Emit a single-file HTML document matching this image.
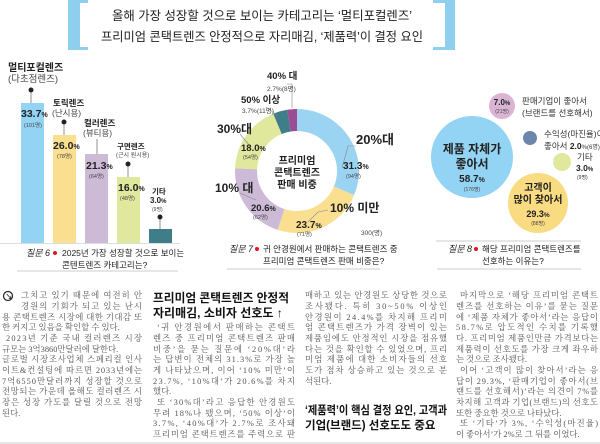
<!DOCTYPE html>
<html><head><meta charset="utf-8"><style>
html,body{margin:0;padding:0;background:#fff;width:600px;height:444px;overflow:hidden}
svg{display:block}
.s{font-family:"Liberation Sans","Noto Sans CJK KR",sans-serif}
.b{font-family:"Liberation Serif","Noto Serif CJK KR","Noto Serif CJK SC",serif;fill:#555;font-size:8.4px}
</style></head><body>
<svg width="600" height="444" viewBox="0 0 600 444" xmlns="http://www.w3.org/2000/svg" class="s">
<!-- header brackets -->
<rect x="68" y="0" width="12" height="50" fill="#8ecfee"/>
<rect x="80" y="0" width="8" height="3" fill="#8ecfee"/>
<rect x="80" y="47" width="8" height="3" fill="#8ecfee"/>
<rect x="445" y="0" width="10" height="50" fill="#8ecfee"/>
<rect x="433" y="0" width="12" height="3" fill="#8ecfee"/>
<rect x="433" y="47" width="12" height="3" fill="#8ecfee"/>
<text x="262" y="20" font-size="12.5" text-anchor="middle" fill="#222" textLength="300" lengthAdjust="spacingAndGlyphs">올해 가장 성장할 것으로 보이는 카테고리는 ‘멀티포컬렌즈’</text>
<text x="262" y="41" font-size="12.5" text-anchor="middle" fill="#222" textLength="322" lengthAdjust="spacingAndGlyphs">프리미엄 콘택트렌즈 안정적으로 자리매김, ‘제품력’이 결정 요인</text>

<!-- bar chart -->
<g stroke="#777" stroke-width="0.8">
<line x1="31" y1="90" x2="31" y2="103"/><line x1="64" y1="122" x2="64" y2="135"/>
<line x1="97" y1="139" x2="97" y2="154"/><line x1="128" y1="164" x2="128" y2="177"/>
<line x1="160" y1="217" x2="160" y2="229"/>
</g>
<g fill="#222"><circle cx="31" cy="90" r="2.5"/><circle cx="64" cy="122" r="2.5"/><circle cx="128" cy="164" r="2.5"/><circle cx="160" cy="217" r="2.5"/></g>
<rect x="21" y="103" width="23" height="140" fill="#93d3f3"/>
<rect x="53" y="135" width="23" height="108" fill="#f9df8f"/>
<rect x="85" y="154" width="23" height="89" fill="#cdbad7"/>
<rect x="117" y="177" width="23" height="66" fill="#dfe89c"/>
<rect x="149" y="229" width="23" height="14" fill="#3f7d88"/>
<text x="8" y="71" font-size="10" font-weight="bold" fill="#222">멀티포컬렌즈</text>
<text x="8" y="82" font-size="9.5" fill="#444">(다초점렌즈)</text>
<text x="53" y="106" font-size="8.5" font-weight="bold" fill="#222">토릭렌즈</text>
<text x="52" y="116" font-size="8.5" fill="#444">(난시용)</text>
<text x="84" y="126" font-size="8.5" font-weight="bold" fill="#222">컬러렌즈</text>
<text x="83" y="136" font-size="8.5" fill="#444">(뷰티용)</text>
<text x="117" y="149" font-size="7.5" font-weight="bold" fill="#222">구면렌즈</text>
<text x="116" y="157" font-size="6" fill="#444">(근시 원시용)</text>
<text x="152" y="194" font-size="7.5" font-weight="bold" fill="#222">기타</text>
<text x="150" y="203" font-size="8" font-weight="bold" fill="#222">3.0<tspan font-size="6">%</tspan></text>
<text x="152" y="211" font-size="5" fill="#444">(9명)</text>
<g font-weight="bold" fill="#222">
<text x="21" y="117" font-size="10.5">33.7<tspan font-size="7">%</tspan></text>
<text x="53" y="149" font-size="10.5">26.0<tspan font-size="7">%</tspan></text>
<text x="86" y="169" font-size="10.5">21.3<tspan font-size="7">%</tspan></text>
<text x="118" y="191" font-size="10.5">16.0<tspan font-size="7">%</tspan></text>
</g>
<g font-size="5.5" fill="#444">
<text x="24" y="127">(101명)</text><text x="57" y="158">(78명)</text><text x="89" y="178">(64명)</text><text x="120" y="200">(48명)</text>
</g>
<line x1="0" y1="243.5" x2="180" y2="243.5" stroke="#bbb" stroke-width="0.5"/>

<!-- questions -->
<g font-size="8.5" fill="#222">
<text x="26" y="256" font-style="italic" font-size="9">질문 6</text>
<circle cx="55" cy="253" r="2" fill="#e0161e"/>
<text x="62" y="256">2025년 가장 성장할 것으로 보이는</text>
<text x="62" y="268">콘텐트렌즈 카테고리는?</text>
<text x="229" y="252" font-style="italic" font-size="9">질문 7</text>
<circle cx="257" cy="249" r="2" fill="#e0161e"/>
<text x="263" y="252">귀 안경원에서 판매하는 콘택트렌즈 중</text>
<text x="263" y="264">프리미엄 콘택트렌즈 판매 비중은?</text>
<text x="448" y="252" font-style="italic" font-size="9">질문 8</text>
<circle cx="476" cy="249" r="2" fill="#e0161e"/>
<text x="482" y="252">해당 프리미엄 콘택트렌즈를</text>
<text x="482" y="264">선호하는 이유는?</text>
</g>
<g stroke="#999" stroke-width="0.6">
<line x1="17" y1="271" x2="178" y2="271"/>
<line x1="227" y1="269" x2="380" y2="269"/>
<line x1="437" y1="269" x2="581" y2="269"/>
<line x1="436" y1="241" x2="581" y2="241"/>
<line x1="0" y1="443" x2="600" y2="443"/>
</g>

<!-- donut -->
<g transform="rotate(-90 297 171)" fill="none" stroke-width="22">
<circle cx="297" cy="171" r="51" stroke="#9bd4f2" stroke-dasharray="100.3 320.44" stroke-dashoffset="0"/>
<circle cx="297" cy="171" r="51" stroke="#f9df8f" stroke-dasharray="75.9 320.44" stroke-dashoffset="-100.3"/>
<circle cx="297" cy="171" r="51" stroke="#cdbad7" stroke-dasharray="66.0 320.44" stroke-dashoffset="-176.24"/>
<circle cx="297" cy="171" r="51" stroke="#dfe89c" stroke-dasharray="57.7 320.44" stroke-dashoffset="-242.25"/>
<circle cx="297" cy="171" r="51" stroke="#3f7d88" stroke-dasharray="11.86 320.44" stroke-dashoffset="-299.93"/>
<circle cx="297" cy="171" r="51" stroke="#9b4d93" stroke-dasharray="8.65 320.44" stroke-dashoffset="-311.79"/>
</g>
<g stroke="#888" stroke-width="0.6" fill="none">
<polyline points="356,146 348,146 342,168"/>
<polyline points="328,210 318,212 308,222"/>
<polyline points="240,193 256,200"/>
<polyline points="240,134 250,146"/>
<polyline points="266,107 278,116"/>
<polyline points="287,84 292,84 292,108"/>
</g>
<g font-weight="bold" fill="#222">
<text x="297" y="164" font-size="10" text-anchor="middle">프리미엄</text>
<text x="297" y="176" font-size="10" text-anchor="middle">콘택트렌즈</text>
<text x="297" y="188" font-size="10" text-anchor="middle">판매 비중</text>
<text x="356" y="144" font-size="13">20%대</text>
<text x="343" y="169" font-size="10">31.3<tspan font-size="7">%</tspan></text>
<text x="330" y="212" font-size="12">10% 미만</text>
<text x="296" y="228" font-size="10">23.7<tspan font-size="7">%</tspan></text>
<text x="215" y="192" font-size="12">10% 대</text>
<text x="251" y="211" font-size="9.5">20.6<tspan font-size="7">%</tspan></text>
<text x="217" y="133" font-size="12">30%대</text>
<text x="241" y="151" font-size="9.5">18.0<tspan font-size="7">%</tspan></text>
<text x="241" y="103" font-size="9.5">50% 이상</text>
<text x="267" y="79" font-size="9.5">40% 대</text>
</g>
<g font-size="5.5" fill="#444">
<text x="346" y="178">(94명)</text><text x="297" y="236">(71명)</text><text x="253" y="219">(62명)</text><text x="243" y="159">(54명)</text>
<text x="242" y="113" font-size="6.5">3.7%(11명)</text>
<text x="267" y="91" font-size="6.5">2.7%(8명)</text>
<text x="361" y="235" font-size="6.5">300(명)</text>
</g>

<!-- bubbles -->
<circle cx="472" cy="157" r="41" fill="#93d3f3"/>
<circle cx="502" cy="106" r="13" fill="#d9b4d4"/>
<circle cx="530" cy="138" r="7" fill="#6a86ad"/>
<circle cx="562" cy="162" r="9" fill="#dfe89c"/>
<circle cx="538" cy="203" r="30" fill="#f9db82"/>
<g font-weight="bold" fill="#222" text-anchor="middle">
<text x="472" y="153" font-size="12">제품 자체가</text>
<text x="472" y="168" font-size="12">좋아서</text>
<text x="472" y="182" font-size="10">58.7<tspan font-size="7">%</tspan></text>
<text x="538" y="191" font-size="10">고객이</text>
<text x="538" y="203" font-size="10">많이 찾아서</text>
<text x="538" y="217" font-size="9">29.3<tspan font-size="6.5">%</tspan></text>
<text x="502" y="105" font-size="8">7.0<tspan font-size="6">%</tspan></text>
</g>
<g font-size="5" fill="#444" text-anchor="middle">
<text x="472" y="191">(176명)</text><text x="538" y="225">(88명)</text><text x="502" y="113">(21명)</text>
</g>
<g font-size="8.5" fill="#333">
<text x="522" y="104">판매기업이 좋아서</text>
<text x="522" y="116">(브랜드를 선호해서)</text>
<text x="544" y="137">수익성(마진율)이</text>
<text x="544" y="149">좋아서 <tspan font-weight="bold" fill="#222">2.0</tspan><tspan font-size="6">%(6명)</tspan></text>
<text x="577" y="160">기타</text>
<text x="576" y="171" font-weight="bold" fill="#222">3.0<tspan font-size="6">%</tspan></text>
<text x="577" y="179" font-size="5">(9명)</text>
</g>

<!-- body text -->
<circle cx="8" cy="296" r="4.5" fill="none" stroke="#222" stroke-width="1.2"/>
<text x="5.5" y="299" font-size="7" font-weight="bold" fill="#222">↘</text>
<g class="b">
<text x="21" y="298" textLength="121" lengthAdjust="spacing">그치고 있기 때문에 여전히 안</text>
<text x="21" y="309" textLength="121" lengthAdjust="spacing">경원의 기회가 되고 있는 난시</text>
<text x="2" y="320" textLength="140" lengthAdjust="spacing">용 콘택트렌즈 시장에 대한 기대감 또</text>
<text x="2" y="330">한 커지고 있음을 확인할 수 있다.</text>
<text x="6" y="341" textLength="136" lengthAdjust="spacing">2023년 기준 국내 컬러렌즈 시장</text>
<text x="2" y="352">규모는 3억3860만달러에 달한다.</text>
<text x="2" y="362" textLength="140" lengthAdjust="spacing">글로벌 시장조사업체 스페리컬 인사</text>
<text x="2" y="373" textLength="140" lengthAdjust="spacing">이트&amp;컨설팅에 따르면 2033년에는</text>
<text x="2" y="384" textLength="140" lengthAdjust="spacing">7억6550만달러까지 성장할 것으로</text>
<text x="2" y="394" textLength="140" lengthAdjust="spacing">전망되는 가운데 올해도 컬러렌즈 시</text>
<text x="2" y="405" textLength="140" lengthAdjust="spacing">장은 성장 가도를 달릴 것으로 전망</text>
<text x="2" y="416">된다.</text>

<text x="157" y="330" textLength="138" lengthAdjust="spacing">‘귀 안경원에서 판매하는 콘택트</text>
<text x="153" y="341" textLength="142" lengthAdjust="spacing">렌즈 중 프리미엄 콘택트렌즈 판매</text>
<text x="153" y="352" textLength="142" lengthAdjust="spacing">비중’을 묻는 질문에 ‘20%대’라</text>
<text x="153" y="362" textLength="142" lengthAdjust="spacing">는 답변이 전체의 31.3%로 가장 높</text>
<text x="153" y="373" textLength="142" lengthAdjust="spacing">게 나타났으며, 이어 ‘10% 미만’이</text>
<text x="153" y="384" textLength="142" lengthAdjust="spacing">23.7%, ‘10%대’가 20.6%를 차지</text>
<text x="153" y="394">했다.</text>
<text x="157" y="405" textLength="138" lengthAdjust="spacing">또 ‘30%대’라고 응답한 안경원도</text>
<text x="153" y="416" textLength="142" lengthAdjust="spacing">무려 18%나 됐으며, ‘50% 이상’이</text>
<text x="153" y="426" textLength="142" lengthAdjust="spacing">3.7%, ‘40%대’가 2.7%로 조사돼</text>
<text x="153" y="437" textLength="142" lengthAdjust="spacing">프리미엄 콘택트렌즈를 주력으로 판</text>

<text x="305" y="298" textLength="142" lengthAdjust="spacing">매하고 있는 안경원도 상당한 것으로</text>
<text x="305" y="309" textLength="142" lengthAdjust="spacing">조사됐다. 특히 30~50% 이상인</text>
<text x="305" y="320" textLength="142" lengthAdjust="spacing">안경원이 24.4%를 차지해 프리미</text>
<text x="305" y="330" textLength="142" lengthAdjust="spacing">엄 콘택트렌즈가 가격 장벽이 있는</text>
<text x="305" y="341" textLength="142" lengthAdjust="spacing">제품임에도 안정적인 시장을 점유했</text>
<text x="305" y="352" textLength="142" lengthAdjust="spacing">다는 것을 확인할 수 있었으며, 프리</text>
<text x="305" y="362" textLength="142" lengthAdjust="spacing">미엄 제품에 대한 소비자들의 선호</text>
<text x="305" y="373" textLength="142" lengthAdjust="spacing">도가 점차 상승하고 있는 것으로 분</text>
<text x="305" y="384">석된다.</text>

<text x="460" y="298" textLength="138" lengthAdjust="spacing">마지막으로 ‘해당 프리미엄 콘택트</text>
<text x="456" y="309" textLength="142" lengthAdjust="spacing">렌즈를 선호하는 이유’를 묻는 질문</text>
<text x="456" y="320" textLength="142" lengthAdjust="spacing">에 ‘제품 자체가 좋아서’라는 응답이</text>
<text x="456" y="330" textLength="142" lengthAdjust="spacing">58.7%로 압도적인 수치를 기록했</text>
<text x="456" y="341" textLength="142" lengthAdjust="spacing">다. 프리미엄 제품인만큼 가격보다는</text>
<text x="456" y="352" textLength="142" lengthAdjust="spacing">제품력이 선호도를 가장 크게 좌우하</text>
<text x="456" y="362">는 것으로 조사됐다.</text>
<text x="460" y="373" textLength="138" lengthAdjust="spacing">이어 ‘고객이 많이 찾아서’라는 응</text>
<text x="456" y="384" textLength="142" lengthAdjust="spacing">답이 29.3%, ‘판매기업이 좋아서(브</text>
<text x="456" y="394" textLength="142" lengthAdjust="spacing">랜드를 선호해서)’라는 의견이 7%를</text>
<text x="456" y="405" textLength="142" lengthAdjust="spacing">차지해 고객과 기업(브랜드)의 선호도</text>
<text x="456" y="416">또한 중요한 것으로 나타났다.</text>
<text x="460" y="426" textLength="138" lengthAdjust="spacing">또 ‘기타’가 3%, ‘수익성(마진율)</text>
<text x="456" y="437">이 좋아서’가 2%로 그 뒤를 이었다.</text>
</g>
<g font-weight="bold" fill="#111">
<text x="153" y="302" font-size="12" textLength="136" lengthAdjust="spacingAndGlyphs">프리미엄 콘택트렌즈 안정적</text>
<text x="153" y="317" font-size="12">자리매김, 소비자 선호도 ↑</text>
<text x="305" y="414" font-size="11.5" textLength="142" lengthAdjust="spacingAndGlyphs">‘제품력’이 핵심 결정 요인, 고객과</text>
<text x="305" y="429" font-size="11.5">기업(브랜드) 선호도도 중요</text>
</g>
</svg>
</body></html>
